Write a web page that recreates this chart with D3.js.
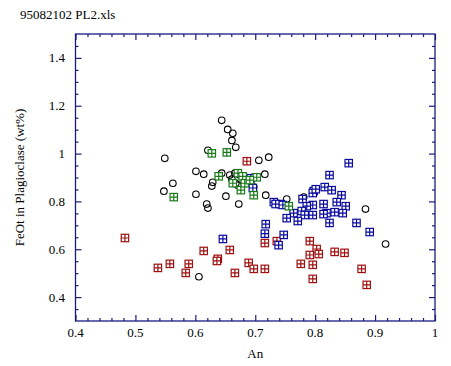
<!DOCTYPE html>
<html><head><meta charset="utf-8">
<script src="https://cdn.jsdelivr.net/npm/d3@7"></script>
<style>body{margin:0;background:#fff}svg{display:block}</style>
</head><body><div id="chart"></div>
<script>
const title = "95082102 PL2.xls";
const xLabel = "An";
const yLabel = "FeOt in Plagioclase (wt%)";
const xTicks = [0.4,0.5,0.6,0.7,0.8,0.9,1];
const yTicks = [0.4,0.6,0.8,1,1.2,1.4];

// black open circles [An, FeOt]
const circleAn  = [0.644,0.654,0.6625,0.661,0.6675,0.621,0.6525,0.706,0.7225,0.549,0.601,0.614,0.644,0.629,0.6275,0.5625,0.5475,0.601,0.651,0.619,0.621,0.6725,0.606,0.6575,0.661,0.6675,0.674,0.666,0.6975,0.716,0.696,0.7175,0.7525,0.781,0.884,0.9175,0.681,0.6875,0.671];
const circleFe  = [1.139,1.101,1.085,1.055,1.026,1.014,1.005,0.972,0.985,0.980,0.926,0.914,0.918,0.880,0.864,0.876,0.843,0.830,0.822,0.789,0.772,0.789,0.485,0.910,0.893,0.876,0.910,0.918,0.860,0.914,0.901,0.826,0.810,0.818,0.768,0.622,0.897,0.889,0.868];

const greenAn = [0.6275,0.6525,0.639,0.6625,0.671,0.679,0.676,0.6825,0.7025,0.6975,0.564,0.756,0.691];
const greenFe = [1.001,1.005,0.905,0.876,0.918,0.905,0.847,0.876,0.901,0.826,0.818,0.780,0.889];

const blueAn = [0.856,0.824,0.816,0.8275,0.7975,0.796,0.844,0.731,0.7425,0.779,0.836,0.851,0.814,0.796,0.786,0.7775,0.846,0.8325,0.819,0.814,0.796,0.7825,0.764,0.7525,0.771,0.824,0.869,0.891,0.7175,0.716,0.7475,0.739,0.696,0.6925,0.646,0.734,0.746,0.801];
const blueFe = [0.960,0.910,0.860,0.847,0.843,0.835,0.826,0.797,0.789,0.810,0.797,0.780,0.789,0.785,0.780,0.760,0.751,0.755,0.751,0.747,0.743,0.743,0.751,0.730,0.718,0.710,0.710,0.672,0.705,0.665,0.660,0.617,0.856,0.897,0.643,0.789,0.785,0.851];

const redAn = [0.4825,0.5375,0.5575,0.589,0.584,0.614,0.6375,0.636,0.6575,0.689,0.6975,0.666,0.716,0.716,0.736,0.791,0.8025,0.806,0.791,0.8325,0.849,0.776,0.796,0.796,0.8775,0.886,0.686];
const redFe = [0.647,0.522,0.539,0.539,0.501,0.593,0.560,0.551,0.597,0.543,0.518,0.501,0.518,0.626,0.634,0.634,0.601,0.580,0.576,0.589,0.585,0.539,0.535,0.476,0.518,0.451,0.968];

const W = 451, H = 366;
const mLeft = 75.5, mRight = 435, mTop = 34, mBottom = 321;
const axisColor = "#1a1a80";
const serif = "'Liberation Serif', 'DejaVu Serif', serif";

const x = d3.scaleLinear().domain([0.4, 1]).range([mLeft, mRight]);
const y = d3.scaleLinear().domain([0.3, 1.5]).range([mBottom, mTop]);

const svg = d3.select("#chart").append("svg").attr("width", W).attr("height", H)
  .attr("font-family", serif).style("font-family", serif);

svg.append("text").attr("x", 20).attr("y", 19).attr("font-size", 13).attr("fill", "#000").text(title);

svg.append("rect").attr("x", mLeft).attr("y", mTop).attr("width", mRight-mLeft).attr("height", mBottom-mTop)
  .attr("fill", "none").attr("stroke", axisColor).attr("stroke-width", 1.3);

const xMinor = d3.range(0.42, 1.0, 0.02).filter(v => Math.abs(v*10 - Math.round(v*10)) > 1e-6);
const yMinor = d3.range(0.35, 1.5, 0.05).filter(v => Math.abs(v*5 - Math.round(v*5)) > 1e-6);

function axes(sel, scale, orient, ticks, size) {
  const ax = orient(scale).tickValues(ticks).tickSizeInner(size).tickSizeOuter(0).tickFormat("");
  sel.call(ax);
  sel.attr("font-family", null);
  sel.select(".domain").remove();
  sel.selectAll("line").attr("stroke", axisColor).attr("stroke-width", 1.2);
  return sel;
}
const fmt = d => String(+d.toFixed(2));
axes(svg.append("g").attr("transform", `translate(0,${mBottom})`), x, d3.axisTop, xTicks, 6);
axes(svg.append("g").attr("transform", `translate(0,${mBottom})`), x, d3.axisTop, xMinor, 3);
axes(svg.append("g").attr("transform", `translate(0,${mTop})`), x, d3.axisBottom, xTicks, 6);
axes(svg.append("g").attr("transform", `translate(0,${mTop})`), x, d3.axisBottom, xMinor, 3);
axes(svg.append("g").attr("transform", `translate(${mLeft},0)`), y, d3.axisRight, yTicks, 6);
axes(svg.append("g").attr("transform", `translate(${mLeft},0)`), y, d3.axisRight, yMinor, 3);
axes(svg.append("g").attr("transform", `translate(${mRight},0)`), y, d3.axisLeft, yTicks, 6);
axes(svg.append("g").attr("transform", `translate(${mRight},0)`), y, d3.axisLeft, yMinor, 3);

svg.append("g").selectAll("text").data(xTicks).join("text")
  .attr("x", d => x(d)).attr("y", 337).attr("text-anchor", "middle").attr("font-size", 13).text(fmt);
svg.append("g").selectAll("text").data(yTicks).join("text")
  .attr("x", 65).attr("y", d => y(d) + 4.5).attr("text-anchor", "end").attr("font-size", 13).text(fmt);

svg.append("text").attr("x", (mLeft+mRight)/2).attr("y", 358).attr("text-anchor", "middle").attr("font-size", 13).text(xLabel);
svg.append("text").attr("transform", `translate(24,${(mTop+mBottom)/2}) rotate(-90)`).attr("text-anchor", "middle").attr("font-size", 13).text(yLabel);

const plot = svg.append("g");

function squares(an, fe, color) {
  const g = plot.append("g").attr("stroke", color).attr("fill", "none").attr("stroke-width", 1.2);
  const s = 3.7;
  d3.range(an.length).forEach(i => {
    const cx = x(an[i]), cy = y(fe[i]);
    g.append("rect").attr("x", cx - s).attr("y", cy - s).attr("width", 2*s).attr("height", 2*s).attr("fill", "#fff");
    g.append("path").attr("d", `M${cx-s},${cy}H${cx+s}M${cx},${cy-s}V${cy+s}`);
  });
}

plot.append("g").selectAll("circle").data(d3.range(circleAn.length)).join("circle")
  .attr("cx", i => x(circleAn[i])).attr("cy", i => y(circleFe[i])).attr("r", 3.3)
  .attr("fill", "none").attr("stroke", "#000").attr("stroke-width", 1.1);

squares(redAn, redFe, "#a01010");
squares(blueAn, blueFe, "#0a0aa0");
squares(greenAn, greenFe, "#1a7a1a");
</script></body></html>
